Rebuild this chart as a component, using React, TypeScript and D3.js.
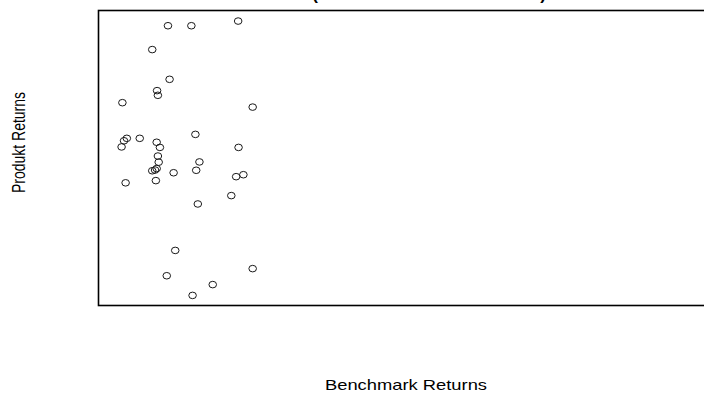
import * as d3 from "d3";

// Benchmark returns (x) and product returns (y)
const benchmark = [
  0.71, 1.29, 2.45, 0.32, 0.75, 0.44, 0.46, -0.42, 2.81, 1.39,
  0.01, -0.31, -0.38, -0.44, 0.43, 0.51, 2.46, 0.46, 0.48, 1.49,
  0.43, 0.39, 0.32, 0.85, 1.41, 2.4, 2.58, -0.34, 0.41, 2.28,
  1.45, 0.89, 2.81, 0.68, 1.82, 1.32,
];
const produkt = [
  5.36, 5.36, 5.55, 4.39, 3.18, 2.72, 2.53, 2.23, 2.05, 0.94,
  0.78, 0.78, 0.68, 0.43, 0.62, 0.41, 0.41, 0.06, -0.19, -0.18,
  -0.45, -0.51, -0.54, -0.62, -0.52, -0.78, -0.7, -1.03, -0.94, -1.55,
  -1.89, -3.78, -4.52, -4.81, -5.17, -5.61,
];

const xLabel = "Benchmark Returns";
const yLabel = "Produkt Returns";

const W = 704;
const H = 397;
const plot = { left: 98.5, top: 10.5, bottom: 305.5, right: 720 };

export default function App() {
  const x = d3.scaleLinear().domain([-1, 14]).range([99, 704]);
  const y = d3.scaleLinear().domain([-6, 6]).range([305, 10]);
  const font = "Liberation Sans, Arial, Helvetica, sans-serif";

  return (
    <svg
      width={W}
      height={H}
      style={{ position: "absolute", left: 0, top: 0, background: "#fff" }}
    >
      {/* title, mostly cut off above the page */}
      <text x={315} y={0} fontFamily={font} fontWeight="bold" fontSize={17} textAnchor="middle" fill="#000">
        (
      </text>
      <text x={543} y={0} fontFamily={font} fontWeight="bold" fontSize={17} textAnchor="middle" fill="#000">
        )
      </text>

      <rect
        x={plot.left}
        y={plot.top}
        width={plot.right - plot.left}
        height={plot.bottom - plot.top}
        fill="none"
        stroke="#000"
        strokeWidth={1.6}
      />

      {benchmark.map((b, i) => (
        <ellipse
          key={i}
          cx={x(b)}
          cy={y(produkt[i])}
          rx={3.8}
          ry={3.3}
          fill="none"
          stroke="#1a1a1a"
          strokeWidth={1}
        />
      ))}

      <text
        x={406}
        y={390}
        fontFamily={font}
        fontSize={14.5}
        textAnchor="middle"
        textLength={162}
        lengthAdjust="spacingAndGlyphs"
        fill="#000"
      >
        {xLabel}
      </text>
      <g transform="translate(25,142.5) scale(1.3,1) rotate(-90)">
        <text x={0} y={0} fontFamily={font} fontSize={14} textAnchor="middle" fill="#000">
          {yLabel}
        </text>
      </g>
    </svg>
  );
}
